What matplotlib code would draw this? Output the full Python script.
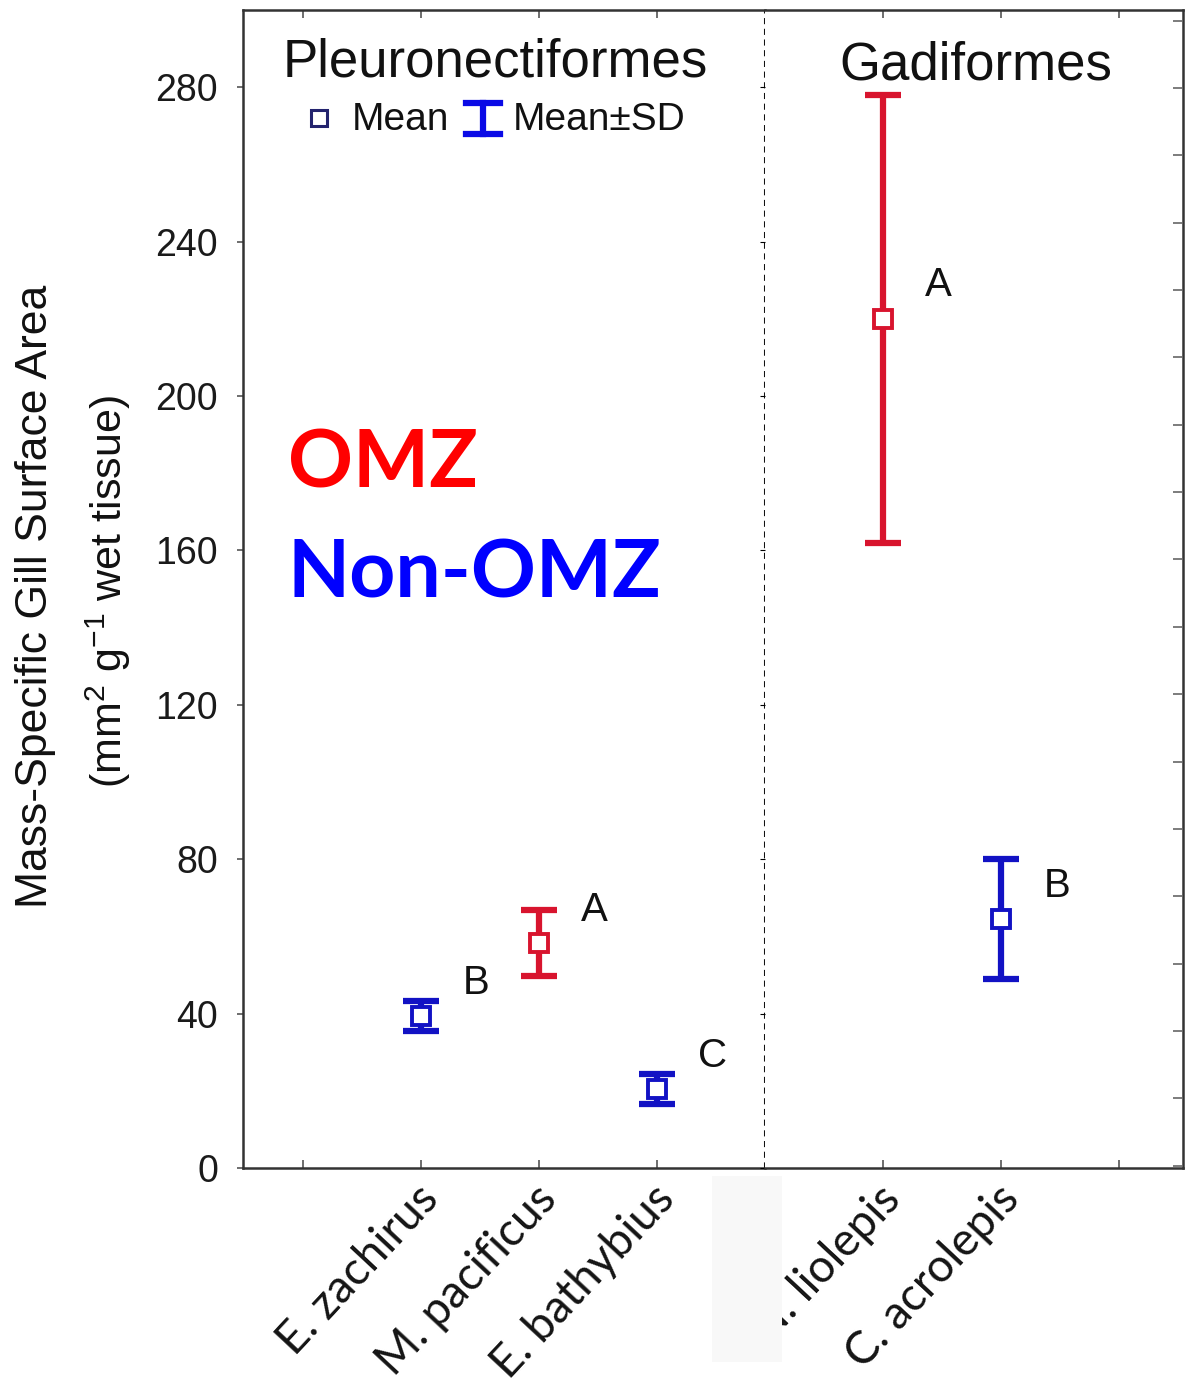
import matplotlib
matplotlib.use("Agg")
import matplotlib.pyplot as plt
import matplotlib.transforms as mtransforms
from matplotlib.patches import Rectangle
from matplotlib.lines import Line2D
import numpy as np

plt.rcParams["font.family"] = ["Liberation Sans", "DejaVu Sans"]
plt.rcParams["mathtext.fontset"] = "custom"
plt.rcParams["mathtext.rm"] = "Liberation Sans"
plt.rcParams["mathtext.it"] = "Liberation Sans"

# ---- data -------------------------------------------------------------
pleuro_species = ["E. zachirus", "M. pacificus", "E. bathybius"]
pleuro_habitat = ["Non-OMZ", "OMZ", "Non-OMZ"]
pleuro_mean = [39.4, 58.3, 20.5]
pleuro_sd = [3.8, 8.6, 3.9]
pleuro_letters = ["B", "A", "C"]

gadi_species = ["N. liolepis", "C. acrolepis"]
gadi_habitat = ["OMZ", "Non-OMZ"]
gadi_mean = [220.0, 64.5]
gadi_sd = [58.0, 15.5]
gadi_letters = ["A", "B"]

y_ticks = [0, 40, 80, 120, 160, 200, 240, 280]

habitat_colors = {"OMZ": "#d8142e", "Non-OMZ": "#1212c4"}

# ---- figure -----------------------------------------------------------
W, H = 1185, 1397
fig = plt.figure(figsize=(W / 100, H / 100), dpi=100)
fig.patch.set_facecolor("white")


def fx(px):
    return px / W


def fy(py):
    return 1 - py / H


ax_bottom = fy(1168)
ax_height = fy(10) - fy(1168)
axL = fig.add_axes([fx(243), ax_bottom, fx(765) - fx(243), ax_height])
axR = fig.add_axes([fx(765), ax_bottom, fx(1183) - fx(765), ax_height], sharey=axL)

spine_col = "#333333"


def draw_panel(ax, species, habitat, mean, sd, letters):
    x = np.arange(len(species))
    for xi, m, s, h, lt in zip(x, mean, sd, habitat, letters):
        c = habitat_colors[h]
        ax.errorbar(xi, m, yerr=s, fmt="none", ecolor=c, elinewidth=4.5,
                    capsize=13, capthick=4.5, zorder=3)
        ax.plot(xi, m, marker="s", ms=12.5, mfc="white", mec=c, mew=2.8,
                ls="none", zorder=4)
        ax.annotate(lt, (xi, m), xytext=(40, 24), textcoords="offset points",
                    ha="center", va="center", fontsize=29, color="#111111")
    return x


xL = draw_panel(axL, pleuro_species, pleuro_habitat, pleuro_mean, pleuro_sd,
                pleuro_letters)
xR = draw_panel(axR, gadi_species, gadi_habitat, gadi_mean, gadi_sd,
                gadi_letters)

axL.set_xlim(-1.508, 2.915)
axR.set_xlim(-1.0, 2.54)
axL.set_ylim(0, 300)

# x ticks: one spare tick outside each group of categories
axL.set_xticks(np.r_[-1, xL])
axL.set_xticklabels([""] + pleuro_species)
axR.set_xticks(np.r_[xR, len(xR)])
axR.set_xticklabels(gadi_species + [""])

shift = mtransforms.ScaledTranslation(-5 / 100, 0, fig.dpi_scale_trans)
for ax in (axL, axR):
    ax.tick_params(axis="x", which="both", direction="in", length=6,
                   width=1.2, color="#555555", top=True, bottom=True, pad=7)
    for lab in ax.get_xticklabels():
        lab.set_rotation(47)
        lab.set_ha("right")
        lab.set_va("top")
        lab.set_rotation_mode("anchor")
        lab.set_fontfamily(["Lato", "DejaVu Sans"])
        lab.set_fontsize(33)
        lab.set_color("#141414")
        lab.set_transform(lab.get_transform() + shift)
    for sp in ax.spines.values():
        sp.set_color(spine_col)
        sp.set_linewidth(1.8)

axL.set_yticks(y_ticks)
axL.tick_params(axis="y", direction="out", length=4, width=1.2, pad=14,
                labelsize=27, color="#555555", labelcolor="#1a1a1a")
axL.spines["right"].set_visible(False)
axR.spines["left"].set_visible(False)
axR.tick_params(axis="y", left=False, labelleft=False)

# dashed divider between the two orders
axL.axvline(2.915, color="#111111", lw=2.2, ls=(0, (2, 1.5)), zorder=5,
            clip_on=False)

# inward ticks on the right-hand frame
axT = axR.twinx()
axT.set_ylim(0, 300)
axT.set_yticks(np.arange(0.6, 300, 17.45))
axT.tick_params(axis="y", direction="in", length=7, width=1.2,
                color="#666666", labelright=False)
for sp in axT.spines.values():
    sp.set_visible(False)

# group titles
axL.text(0.483, 0.955, "Pleuronectiformes", transform=axL.transAxes,
         ha="center", va="center", fontsize=38, color="#111111")
axR.text(0.505, 0.952, "Gadiformes", transform=axR.transAxes,
         ha="center", va="center", fontsize=38, color="#111111")

# legend row
fig.lines.append(Line2D([fx(319)], [fy(118)], marker="s", ms=11, mfc="white",
                        mec="#23236e", mew=2.2, transform=fig.transFigure))
fig.text(fx(352), fy(120), "Mean", ha="left", va="center", fontsize=28,
         color="#111111")
fig.lines.append(Line2D([fx(483), fx(483)], [fy(103), fy(134)], color="#0a0ae6",
                        lw=4.5, transform=fig.transFigure))
for yy in (103, 134):
    fig.lines.append(Line2D([fx(466), fx(500)], [fy(yy), fy(yy)],
                            color="#0a0ae6", lw=4.5,
                            transform=fig.transFigure))
fig.text(fx(513), fy(120), "Mean\u00b1SD", ha="left", va="center",
         fontsize=28, color="#111111")

# habitat key
fig.text(fx(288), fy(488), "OMZ", ha="left", va="baseline", fontsize=58,
         fontweight="bold", color="#ff0000", family=["Lato", "DejaVu Sans"])
fig.text(fx(288), fy(598), "Non-OMZ", ha="left", va="baseline", fontsize=58,
         fontweight="bold", color="#0000ff", family=["Lato", "DejaVu Sans"])

# y-axis title (two lines)
fig.text(fx(36), fy(596), "Mass-Specific Gill Surface Area", rotation=90,
         ha="center", va="center", fontsize=32, color="#111111")
fig.text(fx(108), fy(592),
         r"(mm$^\mathregular{2}$ g$^\mathregular{-1}$ wet tissue)",
         rotation=90, ha="center", va="center", fontsize=31, color="#111111")

# pale panel over the start of the fourth category label
fig.patches.append(Rectangle((fx(712), fy(1362)), fx(782) - fx(712),
                             fy(1176) - fy(1362), transform=fig.transFigure,
                             facecolor="#f8f8f8", edgecolor="none", zorder=10))

fig.savefig("out.png", dpi=100, facecolor="white")
